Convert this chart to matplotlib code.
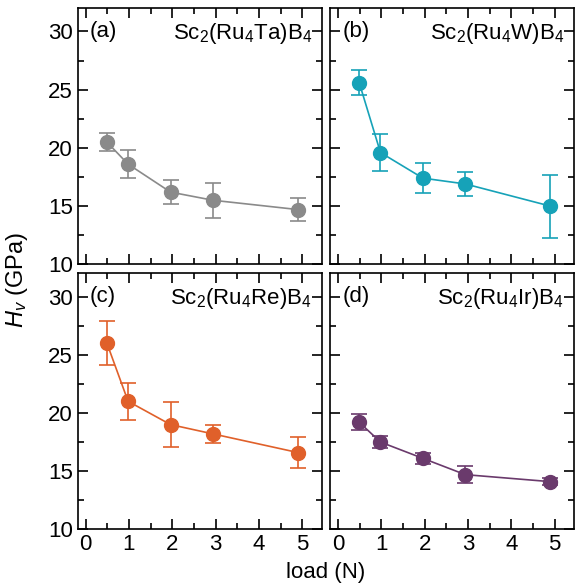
import matplotlib.pyplot as plt
from matplotlib.ticker import MultipleLocator

load = [0.49, 0.98, 1.96, 2.94, 4.9]
hv_a = [20.5, 18.6, 16.2, 15.5, 14.7]
err_a = [0.8, 1.2, 1.0, 1.5, 1.0]
hv_b = [25.6, 19.6, 17.4, 16.9, 15.0]
err_b = [1.1, 1.6, 1.3, 1.0, 2.7]
hv_c = [26.0, 21.0, 19.0, 18.2, 16.6]
err_c = [1.9, 1.6, 1.9, 0.8, 1.3]
hv_d = [19.2, 17.5, 16.1, 14.7, 14.1]
err_d = [0.7, 0.5, 0.5, 0.7, 0.3]

panels = [
    ("(a)", r"Sc$_2$(Ru$_4$Ta)B$_4$", hv_a, err_a, "#8a8a8a"),
    ("(b)", r"Sc$_2$(Ru$_4$W)B$_4$", hv_b, err_b, "#16a2b8"),
    ("(c)", r"Sc$_2$(Ru$_4$Re)B$_4$", hv_c, err_c, "#e0602a"),
    ("(d)", r"Sc$_2$(Ru$_4$Ir)B$_4$", hv_d, err_d, "#6a3a6c"),
]

plt.rcParams['font.family'] = 'Liberation Sans'
plt.rcParams['mathtext.fontset'] = 'custom'
plt.rcParams['mathtext.rm'] = 'Liberation Sans'
plt.rcParams['mathtext.it'] = 'Liberation Sans:italic'

fig, axes = plt.subplots(2, 2, figsize=(5.81, 5.83), dpi=100, sharex=True, sharey=True)
fig.subplots_adjust(left=0.134, right=0.988, top=0.986, bottom=0.092, wspace=0.035, hspace=0.035)

for ax, (tag, name, hv, err, col) in zip(axes.flat, panels):
    ax.errorbar(load, hv, yerr=err, color=col, marker='o', ms=10, lw=1.2,
                capsize=6, elinewidth=1.2, capthick=1.2)
    ax.set_xlim(-0.18, 5.45)
    ax.set_ylim(10, 32)
    ax.xaxis.set_major_locator(MultipleLocator(1))
    ax.xaxis.set_minor_locator(MultipleLocator(0.5))
    ax.yaxis.set_major_locator(MultipleLocator(5))
    ax.yaxis.set_minor_locator(MultipleLocator(2.5))
    ax.tick_params(which='both', direction='in', top=True, right=True, labelsize=16, width=1.2)
    ax.tick_params(which='major', length=7)
    ax.tick_params(which='minor', length=4)
    for s in ax.spines.values():
        s.set_linewidth(1.2)
    ax.text(0.05, 0.95, tag, transform=ax.transAxes, fontsize=16, va='top', ha='left')
    ax.text(0.96, 0.95, name, transform=ax.transAxes, fontsize=16, va='top', ha='right')

fig.text(0.03, 0.52, r"$H_v$ (GPa)", rotation=90, fontsize=17, va='center', ha='center')
fig.text(0.56, 0.0, "load (N)", fontsize=16, va='bottom', ha='center')

fig.savefig("out.png")
